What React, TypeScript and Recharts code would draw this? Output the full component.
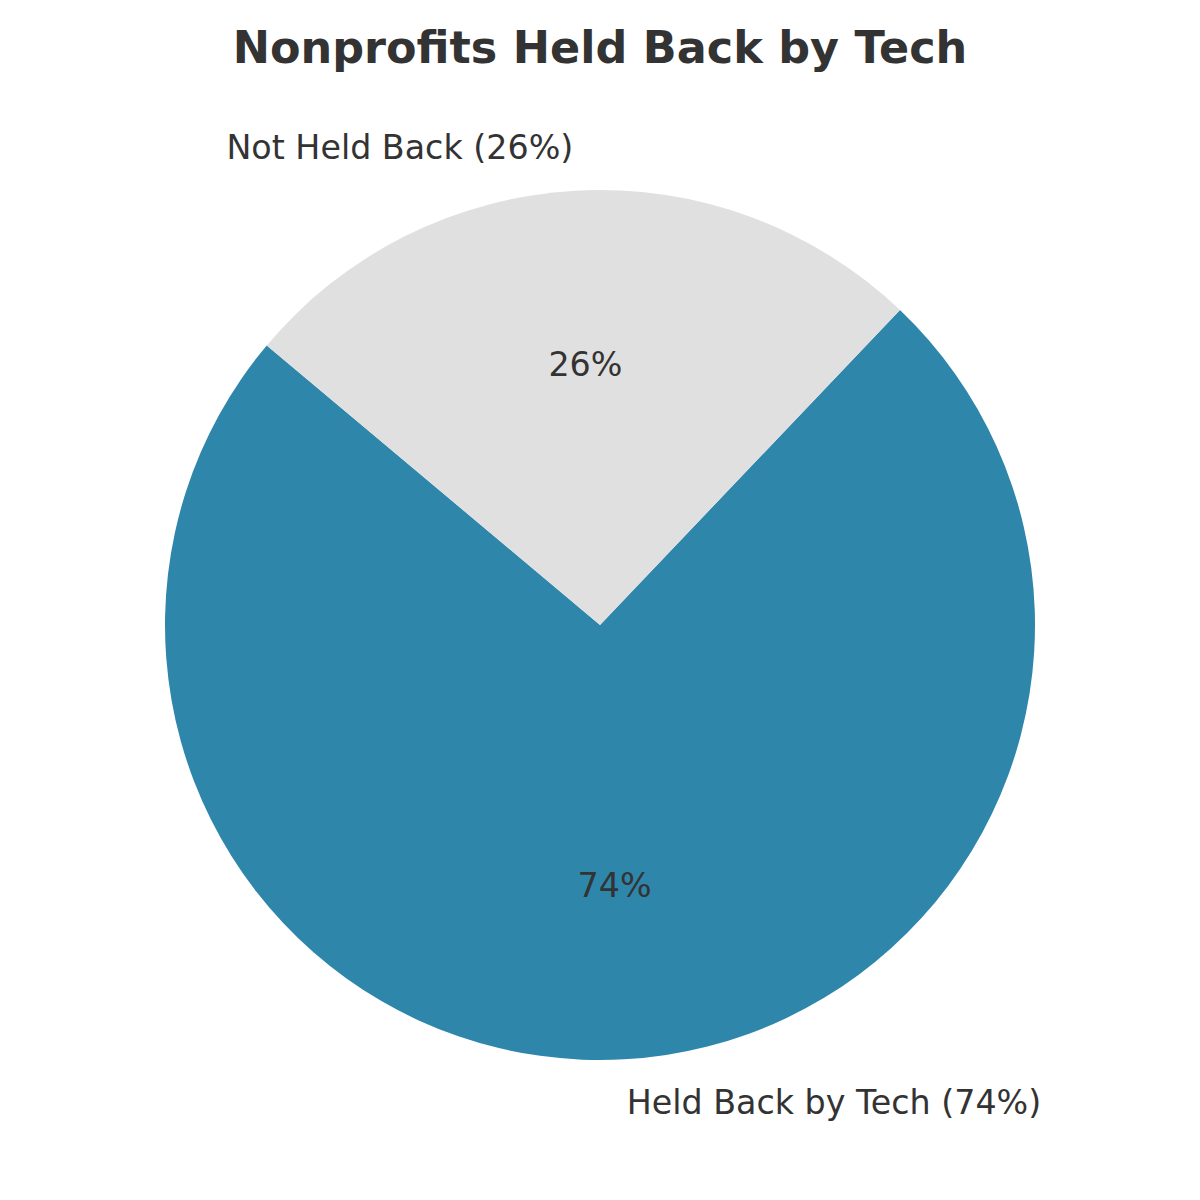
import React from "react";
import { PieChart, Pie, Cell } from "recharts";

const categories: string[] = ["Held Back by Tech", "Not Held Back"];
const values: number[] = [74, 26];
const colors: string[] = ["#2E86AB", "#E0E0E0"];

const data = categories.map((name, i) => ({ name, value: values[i] }));

const RAD = Math.PI / 180;
const FONT = "'DejaVu Sans', sans-serif";

const renderLabel = (props: any) => {
  const { cx, cy, midAngle, outerRadius, name, value, percent } = props;
  const c = Math.cos(midAngle * RAD);
  const s = Math.sin(midAngle * RAD);
  const ox = cx + outerRadius * 1.1 * c;
  const oy = cy - outerRadius * 1.1 * s;
  const ix = cx + outerRadius * 0.6 * c;
  const iy = cy - outerRadius * 0.6 * s;
  const pct = Math.round(percent * 100);
  return (
    <g>
      <text
        x={ox}
        y={oy}
        textAnchor={c > 0 ? "start" : "end"}
        dominantBaseline="central"
        fill="#333333"
        fontSize={33.3}
        fontFamily={FONT}
      >
        {`${name} (${value}%)`}
      </text>
      <text
        x={ix}
        y={iy}
        textAnchor="middle"
        dominantBaseline="central"
        fill="#333333"
        fontSize={33.3}
        fontFamily={FONT}
      >
        {`${pct}%`}
      </text>
    </g>
  );
};

export default function App() {
  return (
    <div style={{ position: "absolute", left: 0, top: 0, width: 1200, height: 1200, background: "#ffffff" }}>
      <div
        style={{
          position: "absolute",
          left: 0,
          top: 26,
          width: 1200,
          textAlign: "center",
          fontFamily: FONT,
          fontWeight: "bold",
          fontSize: 44.5,
          lineHeight: "44px",
          color: "#333333",
          zIndex: 2,
        }}
      >
        Nonprofits Held Back by Tech
      </div>
      <PieChart width={1200} height={1200} margin={{ top: 0, right: 0, bottom: 0, left: 0 }}>
        <Pie
          data={data}
          dataKey="value"
          nameKey="name"
          cx={600}
          cy={625}
          outerRadius={435}
          startAngle={140}
          endAngle={500}
          stroke="none"
          label={renderLabel}
          labelLine={false}
          isAnimationActive={false}
        >
          {data.map((d, i) => (
            <Cell key={d.name} fill={colors[i]} />
          ))}
        </Pie>
      </PieChart>
    </div>
  );
}
